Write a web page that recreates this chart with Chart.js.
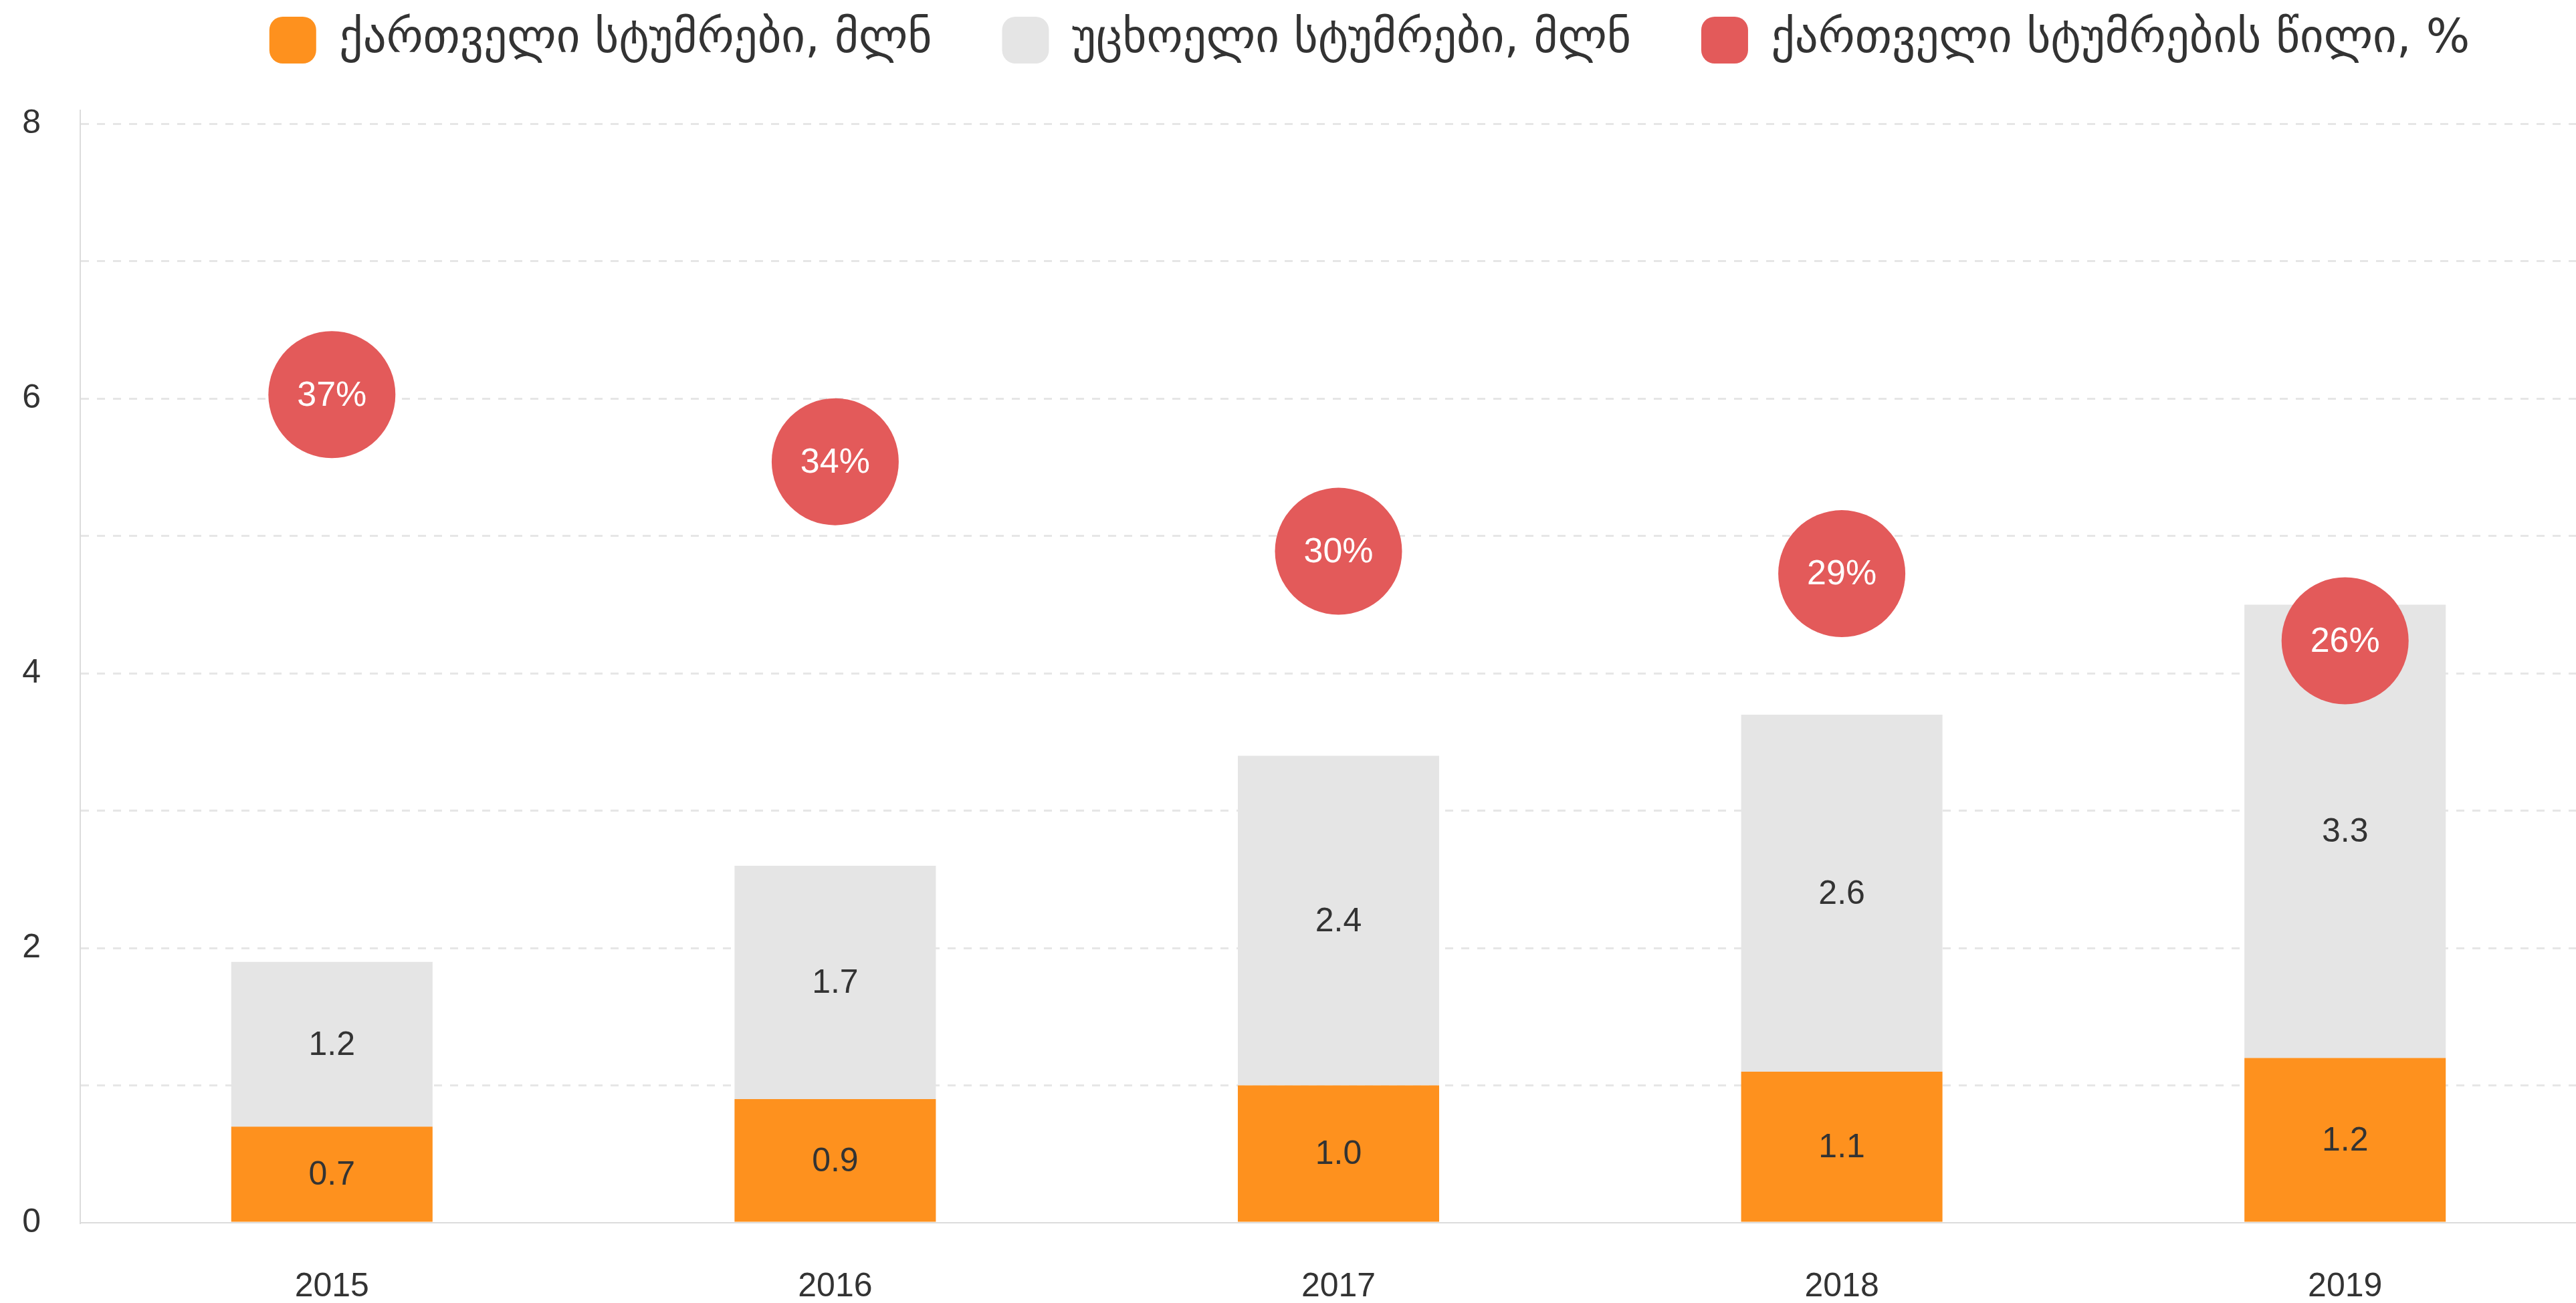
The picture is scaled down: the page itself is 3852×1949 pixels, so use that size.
<!DOCTYPE html>
<html>
<head>
<meta charset="utf-8">
<script src="https://cdn.jsdelivr.net/npm/chart.js@4.4.0/dist/chart.umd.min.js"></script>
<style>
  html, body { margin: 0; padding: 0; background: #fff; overflow: hidden; }
  #wrap { width: 3900px; height: 1949px; }
</style>
</head>
<body>
<div id="wrap"><canvas id="chart" width="3900" height="1949"></canvas></div>
<script>
// values
var years = ['2015', '2016', '2017', '2018', '2019'];
var georgianGuests = [0.7, 0.9, 1.0, 1.1, 1.2];   // million
var foreignGuests = [1.2, 1.7, 2.4, 2.6, 3.3];    // million
var georgianShare = [37, 34, 30, 29, 26];         // %
var yTicks = [0, 1, 2, 3, 4, 5, 6, 7, 8];

var seriesNames = [
  'ქართველი სტუმრები, მლნ',
  'უცხოელი სტუმრები, მლნ',
  'ქართველი სტუმრების წილი, %'
];

var ORANGE = '#fe911e';
var GREY = '#e5e5e5';
var RED = '#e35a5a';
var TEXT = '#333333';
var FONT = "'Liberation Sans', Arial, sans-serif";

// draws the numbers inside bars and points
var valueLabels = {
  id: 'valueLabels',
  afterDatasetsDraw: function(chart) {
    var ctx = chart.ctx;
    ctx.save();
    ctx.textAlign = 'center';
    ctx.textBaseline = 'middle';
    chart.data.datasets.forEach(function(ds, i) {
      var meta = chart.getDatasetMeta(i);
      meta.data.forEach(function(el, j) {
        var v = ds.data[j];
        if (ds.type === 'line') {
          ctx.fillStyle = '#ffffff';
          ctx.font = '52px ' + FONT;
          ctx.fillText(v + '%', el.x, el.y + 2);
        } else {
          ctx.fillStyle = TEXT;
          ctx.font = '50px ' + FONT;
          ctx.fillText(v.toFixed(1), el.x, (el.y + el.base) / 2 + 2);
        }
      });
    });
    ctx.restore();
  }
};

// put the legend where the reference has it
var legendPlace = {
  id: 'legendPlace',
  afterLayout: function(chart) {
    var lg = chart.legend;
    var dx = 2048 - (lg.left + lg.right) / 2;
    var dy = -80 - lg.top;
    lg.left += dx; lg.right += dx;
    lg.top += dy; lg.bottom += dy;
  }
};

new Chart(document.getElementById('chart').getContext('2d'), {
  type: 'bar',
  data: {
    labels: years,
    datasets: [
      { label: seriesNames[0], data: georgianGuests, backgroundColor: ORANGE, borderWidth: 0, stack: 's', order: 1 },
      { label: seriesNames[1], data: foreignGuests, backgroundColor: GREY, borderWidth: 0, stack: 's', order: 1 },
      { type: 'line', label: seriesNames[2], data: georgianShare, yAxisID: 'y1', showLine: false,
        backgroundColor: RED, borderColor: RED, borderWidth: 0,
        pointRadius: 95, pointHoverRadius: 95, pointBorderWidth: 0, pointBackgroundColor: RED,
        order: 0, clip: false }
    ]
  },
  options: {
    responsive: false,
    animation: false,
    layout: { autoPadding: false, padding: { left: 33, right: 17, top: -20, bottom: 0 } },
    datasets: { bar: { barPercentage: 0.4, categoryPercentage: 1.0 } },
    plugins: {
      tooltip: { enabled: false },
      legend: {
        position: 'top',
        labels: {
          boxWidth: 70, boxHeight: 70, useBorderRadius: true, borderRadius: 20,
          padding: 105, color: TEXT,
          font: { family: "'DejaVu Sans', sans-serif", size: 69 },
          sort: function(a, b) { return a.datasetIndex - b.datasetIndex; }
        }
      }
    },
    scales: {
      x: {
        stacked: true,
        afterFit: function(scale) { scale.height = 120; },
        grid: { display: false, drawTicks: false },
        border: { display: true, color: '#dcdcdc', width: 2 },
        ticks: { color: TEXT, font: { family: FONT, size: 50 }, padding: 66 }
      },
      y: {
        stacked: true,
        min: 0, max: 8.1,
        afterBuildTicks: function(scale) {
          scale.ticks = yTicks.map(function(v) { return { value: v }; });
        },
        afterFit: function(scale) { scale.width = 87; },
        grid: {
          drawTicks: false, lineWidth: 3,
          color: function(c) { return c.tick && c.tick.value === 0 ? 'rgba(0,0,0,0)' : '#e6e6e6'; }
        },
        border: { display: true, color: '#dcdcdc', width: 2, dash: [12, 12] },
        ticks: {
          color: TEXT, padding: 59, font: { family: FONT, size: 50 },
          callback: function(v) { return v % 2 === 0 ? String(v) : ''; }
        }
      },
      y1: { display: false, min: 0, max: 49.7 }
    }
  },
  plugins: [valueLabels, legendPlace]
});
</script>
</body>
</html>
